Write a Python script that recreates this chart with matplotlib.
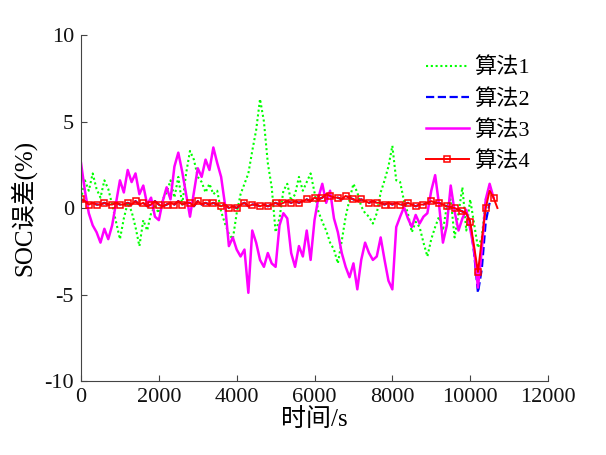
import matplotlib
matplotlib.use("Agg")
import matplotlib.pyplot as plt
import numpy as np

plt.rcParams['font.family'] = ['Liberation Serif', 'Noto Sans CJK SC']
plt.rcParams['axes.unicode_minus'] = False

# time axis (s), 100 s steps
t = list(range(0, 10800, 100))

alg1 = [0.5, 1.6, 1.0, 2.0, 1.1, 0.6, 1.6, 1.1, 0.2, -0.8,
        -1.8, -0.6, 0.3, -0.2, -1.1, -2.2, -0.7, -1.3, -0.3, 0.1,
        -0.3, 0.5, 0.9, 1.6, 0.6, 1.8, 0.2, 2.0, 3.3, 2.8,
        1.8, 1.5, 0.9, 1.4, 0.8, 1.0, -0.2, -0.9, -1.5, -1.8,
        -0.3, 0.8, 1.4, 2.0, 3.3, 4.5, 6.3, 5.0, 2.6, 1.2,
        -1.4, -0.6, 1.0, 1.4, 0.4, 0.8, 1.8, 1.0, 1.5, 2.0,
        0.9, -0.2, -0.8, -1.3, -2.0, -2.4, -3.2, -1.9, -0.5, 0.5,
        1.4, 0.9, 0.1, -0.3, -0.5, -0.9, -0.3, 0.9, 1.6, 2.4,
        3.6, 1.6, 1.5, 0.4, -0.3, -1.4, -0.8, -1.1, -2.0, -2.8,
        -1.8, -1.1, -0.5, -1.3, 0.1, 0.5, -1.7, -0.3, 1.2, -1.3,
        0.5, -0.9, -2.3, -1.7, 0.5, 1.0]

alg3 = [2.6, 1.0, -0.3, -1.0, -1.4, -2.0, -1.2, -1.8, -1.0, 0.3,
        1.6, 0.9, 2.2, 1.5, 2.0, 0.8, 1.3, 0.2, 0.6, -0.5,
        -0.7, 0.4, 1.2, 0.5, 2.4, 3.2, 2.1, 0.8, -0.5, 0.9,
        2.3, 1.8, 2.8, 2.2, 3.5, 2.6, 1.8, 0.2, -2.2, -1.7,
        -2.4, -2.8, -2.4, -4.9, -1.3, -2.0, -3.0, -3.4, -2.6, -3.2,
        -3.4, -1.0, -0.3, -0.6, -2.6, -3.4, -2.2, -2.8, -1.3, -3.0,
        -0.7, 0.6, 1.4, 0.3, 1.0, -0.6, -1.4, -2.6, -3.4, -4.0,
        -3.2, -4.7, -3.0, -2.0, -2.6, -3.0, -2.8, -1.7, -3.0, -4.2,
        -4.7, -1.1, -0.5, 0.05, -0.6, -1.1, -0.4, -0.9, -0.5, -0.3,
        1.0, 1.9, 0.2, -2.0, -1.0, 1.3, -0.2, -1.3, -0.6, -0.1,
        -1.2, -2.4, -4.6, -2.4, 0.5, 1.4, 0.6]

alg4 = [0.5, 0.4, 0.2, 0.3, 0.2, 0.2, 0.3, 0.2, 0.2, 0.3,
        0.2, 0.2, 0.3, 0.2, 0.4, 0.2, 0.3, 0.1, 0.2, 0.4,
        0.2, 0.1, 0.2, 0.3, 0.2, 0.4, 0.2, 0.3, 0.3, 0.1,
        0.4, 0.2, 0.3, 0.2, 0.3, 0.2, 0.1, 0.2, 0.0, 0.1,
        0.0, 0.2, 0.3, 0.1, 0.2, 0.2, 0.1, 0.2, 0.1, 0.2,
        0.3, 0.2, 0.3, 0.4, 0.3, 0.4, 0.3, 0.4, 0.5, 0.4,
        0.6, 0.5, 0.6, 0.8, 0.7, 0.6, 0.6, 0.5, 0.7, 0.6,
        0.5, 0.4, 0.5, 0.4, 0.3, 0.4, 0.3, 0.3, 0.2, 0.3,
        0.2, 0.3, 0.2, 0.2, 0.3, 0.2, 0.1, 0.2, 0.2, 0.3,
        0.4, 0.3, 0.3, 0.2, 0.1, 0.05, 0.0, -0.1, -0.2, -0.3,
        -0.8, -2.2, -3.7, -1.8, 0.0, 1.0, 0.6, 0.0]

alg2_tail = [-2.6, -4.9, -3.5, -0.8, 0.3]
alg2 = alg4[:101] + alg2_tail

labels = ['算法1', '算法2', '算法3', '算法4']

fig = plt.figure(figsize=(6.06, 4.55), dpi=100)
ax = fig.add_axes([0.1337, 0.1626, 0.7706, 0.7604])

ax.plot(t[:len(alg1)], alg1, color='#00ff00', linestyle=(0, (1, 1.3)), linewidth=1.5, label=labels[0])
ax.plot(t[:len(alg2)], alg2, color='#0000ff', linestyle='--', linewidth=1.6, label=labels[1])
ax.plot(t[:len(alg3)], alg3, color='#ff00ff', linestyle='-', linewidth=1.8, label=labels[2])
ax.plot(t[:len(alg4)], alg4, color='#ff0000', linestyle='-', linewidth=1.4,
        marker='s', markersize=5, markerfacecolor='none', markeredgewidth=1.1,
        markevery=2, label=labels[3])

ax.set_xlim(0, 12000)
ax.set_ylim(-10, 10)
ax.set_xticks(range(0, 12001, 2000))
ax.set_yticks([-10, -5, 0, 5, 10])
ax.tick_params(direction='in', length=4, labelsize=16, colors='#444444', pad=5)
for lab in ax.get_xticklabels() + ax.get_yticklabels():
    lab.set_color('#111111')
ax.spines['top'].set_visible(False)
ax.spines['right'].set_visible(False)
for s in ['left', 'bottom']:
    ax.spines[s].set_color('#444444')
    ax.spines[s].set_linewidth(0.8)

ax.set_xlabel('时间/s', fontsize=18, labelpad=1)
ax.set_ylabel('SOC误差(%)', fontsize=18, labelpad=6)

leg = ax.legend(loc='upper left', bbox_to_anchor=(0.738, 0.935), frameon=False,
                borderaxespad=0, borderpad=0, fontsize=16, handlelength=1.95,
                handletextpad=0.25, labelspacing=0.47)

fig.savefig('out.png', dpi=100)
